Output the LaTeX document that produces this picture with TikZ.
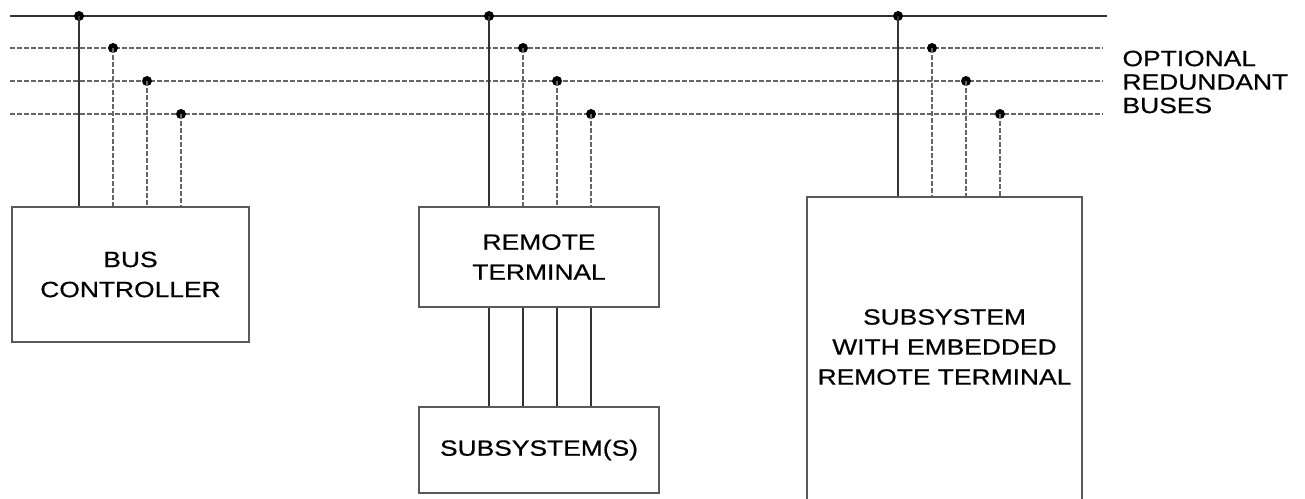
\documentclass[tikz,border=0pt]{standalone}
\usepackage{fontspec}
\setmainfont{Liberation Sans}[FakeStretch=1.2, FakeBold=0.6]
\usepackage{tikz}
\usetikzlibrary{positioning}

\begin{document}
\begin{tikzpicture}[x=1pt, y=-1pt,
    box/.style={draw=black!65, line width=2pt, inner sep=0pt, font=\fontsize{22}{30}\selectfont, align=center},
    bus/.style={line width=1.8pt, color=black!80},
    spare/.style={bus, color=black!60, dash pattern=on 5pt off 2pt},
    tap/.style={circle, fill=black, inner sep=0pt, minimum size=10pt},
    lbl/.style={font=\fontsize{22}{23.5}\selectfont, align=left, anchor=west},
]
\useasboundingbox (0,0) rectangle (1305,498);
% buses: primary (solid) and optional redundant (dashed)
\coordinate (busAw) at (10,16);  \coordinate (busAe) at (1107,16);
\coordinate (busBw) at (10,48);  \coordinate (busBe) at (1103,48);
\coordinate (busCw) at (10,81);  \coordinate (busCe) at (1103,81);
\coordinate (busDw) at (10,114); \coordinate (busDe) at (1103,114);
\draw[bus] (busAw) -- (busAe);
\draw[spare] (busBw) -- (busBe); \draw[spare] (busCw) -- (busCe); \draw[spare] (busDw) -- (busDe);
\node[lbl] (optlbl) at (1119,82) {OPTIONAL\\REDUNDANT\\BUSES};
% boxes
\node[box, minimum width=237pt, minimum height=135pt] (bc) at (130.5,274.5) {BUS\\CONTROLLER};
\node[box, minimum width=240pt, minimum height=100pt] (rt) at (539,257) {REMOTE\\TERMINAL};
\node[box, minimum width=240pt, minimum height=86pt] (sub) at (539,450) {SUBSYSTEM(S)};
\node[box, minimum width=275pt, minimum height=320pt] (emb) at (944.5,357) {};
\node[box, draw=none] (embtxt) at (944.5,347) {SUBSYSTEM\\WITH EMBEDDED\\REMOTE TERMINAL};
% bus controller taps
\node[tap] (bcA) at (79,16) {};  \node[tap] (bcB) at (113,48) {};
\node[tap] (bcC) at (147,81) {}; \node[tap] (bcD) at (181,114) {};
\draw[bus] (bcA.center) -- (bcA |- bc.north);
\draw[spare] (bcB.center) -- (bcB |- bc.north); \draw[spare] (bcC.center) -- (bcC |- bc.north); \draw[spare] (bcD.center) -- (bcD |- bc.north);
% remote terminal taps
\node[tap] (rtA) at (489,16) {};  \node[tap] (rtB) at (523,48) {};
\node[tap] (rtC) at (557,81) {};  \node[tap] (rtD) at (591,114) {};
\draw[bus] (rtA.center) -- (rtA |- rt.north);
\draw[spare] (rtB.center) -- (rtB |- rt.north); \draw[spare] (rtC.center) -- (rtC |- rt.north); \draw[spare] (rtD.center) -- (rtD |- rt.north);
\draw[bus] (rtA |- rt.south) -- (rtA |- sub.north); \draw[bus] (rtB |- rt.south) -- (rtB |- sub.north);
\draw[bus] (rtC |- rt.south) -- (rtC |- sub.north); \draw[bus] (rtD |- rt.south) -- (rtD |- sub.north);
% embedded terminal taps
\node[tap] (emA) at (898,16) {};  \node[tap] (emB) at (932,48) {};
\node[tap] (emC) at (966,81) {};  \node[tap] (emD) at (1000,114) {};
\draw[bus] (emA.center) -- (emA |- emb.north);
\draw[spare] (emB.center) -- (emB |- emb.north); \draw[spare] (emC.center) -- (emC |- emb.north); \draw[spare] (emD.center) -- (emD |- emb.north);
\end{tikzpicture}
\end{document}
